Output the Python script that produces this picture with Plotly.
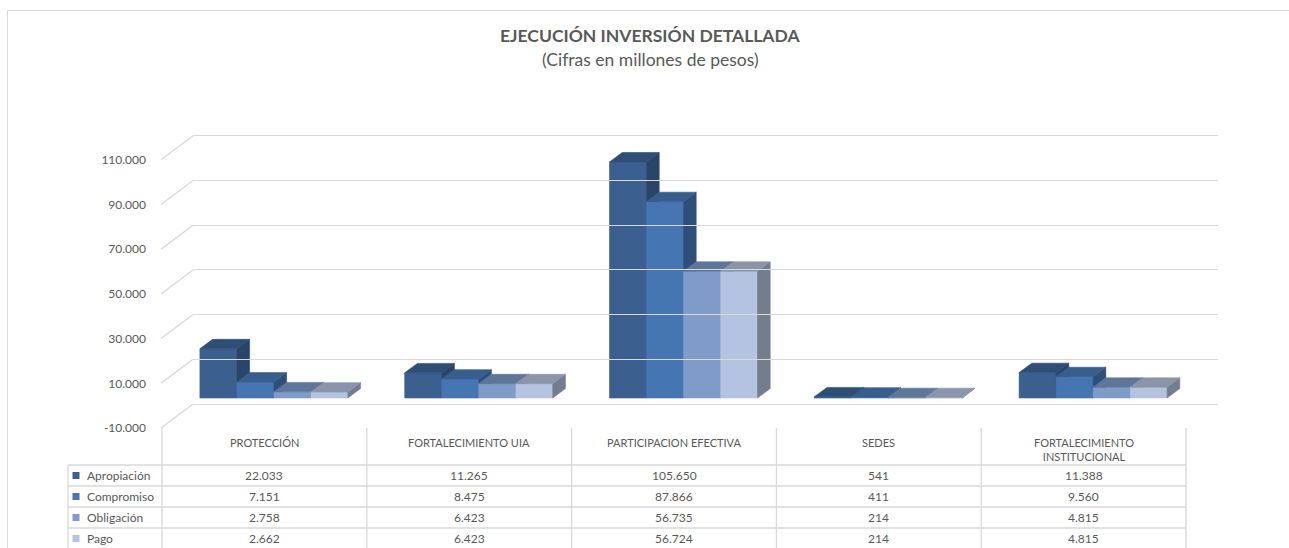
import plotly.graph_objects as go

# ---------------- data ----------------
categories = ["PROTECCIÓN", "FORTALECIMIENTO UIA", "PARTICIPACION EFECTIVA", "SEDES",
              "FORTALECIMIENTO INSTITUCIONAL"]
series_names = ["Apropiación", "Compromiso", "Obligación", "Pago"]
apropiacion = [22033, 11265, 105650, 541, 11388]
compromiso = [7151, 8475, 87866, 411, 9560]
obligacion = [2758, 6423, 56735, 214, 4815]
pago = [2662, 6423, 56724, 214, 4815]
y_tick_values = [-10000, 10000, 30000, 50000, 70000, 90000, 110000]
y_tick_labels = ["-10.000", "10.000", "30.000", "50.000", "70.000", "90.000", "110.000"]
title_text = "EJECUCIÓN INVERSIÓN DETALLADA"
subtitle_text = "(Cifras en millones de pesos)"

series_values = [apropiacion, compromiso, obligacion, pago]

# ---------------- styles ----------------
front_colors = ["#3B6090", "#4676B2", "#7F9CC9", "#B4C3DF"]
side_colors = ["#2A4567", "#2E4F7A", "#56698A", "#747D8E"]
top_colors = ["#2F4E75", "#385E8E", "#5F769B", "#8A95AB"]
GRID = "#D9D9D9"
TXT = "#595959"
FONT = "Lato, 'Open Sans', sans-serif"

W, H = 1289, 548
K = 2.235 / 1000.0            # pixels per value unit
GRID_BOTTOM_PX = 404          # back wall position of the lowest tick
FRONT_ZERO_PX = 398           # front plane position of value 0
PAD = 1000

def px_x(x):
    return x / W

def px_y(y):
    return 1 - y / H

def back_px(v):
    return GRID_BOTTOM_PX - (v - y_tick_values[0]) * K

lo = y_tick_values[0] - PAD
hi = y_tick_values[-1] + PAD
bottom_px = back_px(lo)
top_px = back_px(hi)
y_domain = [px_y(bottom_px), px_y(top_px)]
front_range = [(FRONT_ZERO_PX - bottom_px) / K, (FRONT_ZERO_PX - top_px) / K]

n = len(categories)
FRONT_L, FRONT_R = 162, 1186
BACK_L, BACK_R = 193, 1218
unit_px = (FRONT_R - FRONT_L) / n
BW = 37 / unit_px
SHIFT = 9.5 / unit_px
DX = 12.7 / unit_px
DY = 9.4 / K

fig = go.Figure()

# back wall subplot (carries the value axis and its gridlines)
fig.add_trace(go.Scatter(x=[None], y=[None], xaxis="x2", yaxis="y", mode="markers",
                         hoverinfo="skip", showlegend=False))

for s, vals in enumerate(series_values):
    fx, fy, sx, sy, tx, ty = [], [], [], [], [], []
    for i, v in enumerate(vals):
        x0 = i + SHIFT - 2 * BW + s * BW
        x1 = x0 + BW
        fx += [x0, x1, x1, x0, x0, None]
        fy += [0, 0, v, v, 0, None]
        sx += [x1, x1 + DX, x1 + DX, x1, x1, None]
        sy += [0, DY, v + DY, v, 0, None]
        tx += [x0, x1, x1 + DX, x0 + DX, x0, None]
        ty += [v, v, v + DY, v + DY, v, None]
    for xs, ys, col in ((fx, fy, front_colors[s]), (sx, sy, side_colors[s]), (tx, ty, top_colors[s])):
        fig.add_trace(go.Scatter(x=xs, y=ys, mode="lines", fill="toself", fillcolor=col,
                                 line=dict(color=col, width=0.6), xaxis="x", yaxis="y2",
                                 hoverinfo="skip", showlegend=False))

shapes = []
annotations = []

# slanted side-wall lines (left wall of the 3-D box)
for tv in y_tick_values:
    gy = back_px(tv)
    shapes.append(dict(type="line", xref="paper", yref="paper",
                       x0=px_x(BACK_L), x1=px_x(BACK_L - 32), y0=px_y(gy), y1=px_y(gy + 24),
                       line=dict(color=GRID, width=1.3), layer="below"))

# outer border (left and top)
shapes.append(dict(type="line", xref="paper", yref="paper", x0=px_x(7.5), x1=px_x(7.5),
                   y0=px_y(10.5), y1=0, line=dict(color=GRID, width=1)))
shapes.append(dict(type="line", xref="paper", yref="paper", x0=px_x(7.5), x1=1,
                   y0=px_y(10.5), y1=px_y(10.5), line=dict(color=GRID, width=1)))

# data table
TABLE_TOP = 428
ROW_TOP = 465
ROW_H = 21
LEG_L = 68
col_edges = [FRONT_L + unit_px * i for i in range(n + 1)]
for i, xe in enumerate(col_edges):
    shapes.append(dict(type="line", xref="paper", yref="paper", x0=px_x(xe), x1=px_x(xe),
                       y0=px_y(TABLE_TOP), y1=0, line=dict(color=GRID, width=1.3)))
shapes.append(dict(type="line", xref="paper", yref="paper", x0=px_x(LEG_L), x1=px_x(LEG_L),
                   y0=px_y(ROW_TOP), y1=0, line=dict(color=GRID, width=1.3)))
for r in range(len(series_names)):
    yy = ROW_TOP + r * ROW_H
    shapes.append(dict(type="line", xref="paper", yref="paper", x0=px_x(LEG_L), x1=px_x(FRONT_R),
                       y0=px_y(yy), y1=px_y(yy), line=dict(color=GRID, width=1.3)))

for i, c in enumerate(categories):
    cx = (col_edges[i] + col_edges[i + 1]) / 2
    label = c.replace(" ", "<br>", 1) if len(c) > 24 else c
    annotations.append(dict(x=px_x(cx), y=px_y(434), xref="paper", yref="paper", text=label,
                            showarrow=False, xanchor="center", yanchor="top",
                            font=dict(family=FONT, size=11, color=TXT)))
    for s, vals in enumerate(series_values):
        yy = ROW_TOP + s * ROW_H + ROW_H / 2
        annotations.append(dict(x=px_x(cx), y=px_y(yy), xref="paper", yref="paper",
                                text=f"{vals[i]:,}".replace(",", "."), showarrow=False,
                                xanchor="center", yanchor="middle",
                                font=dict(family=FONT, size=12, color=TXT)))

for s, name in enumerate(series_names):
    yy = ROW_TOP + s * ROW_H + ROW_H / 2
    shapes.append(dict(type="rect", xref="paper", yref="paper", x0=px_x(72.5), x1=px_x(79.5),
                       y0=px_y(yy + 3.5), y1=px_y(yy - 3.5), fillcolor=front_colors[s],
                       line=dict(width=0)))
    annotations.append(dict(x=px_x(85), y=px_y(yy), xref="paper", yref="paper", text=name,
                            showarrow=False, xanchor="left", yanchor="middle",
                            font=dict(family=FONT, size=12, color=TXT)))

# title
annotations.append(dict(x=px_x(650), y=px_y(35.5), xref="paper", yref="paper",
                        text=f"<b>{title_text}</b>", showarrow=False, xanchor="center",
                        yanchor="middle", font=dict(family=FONT, size=17.5, color=TXT)))
annotations.append(dict(x=px_x(650), y=px_y(60), xref="paper", yref="paper",
                        text=subtitle_text, showarrow=False, xanchor="center",
                        yanchor="middle", font=dict(family=FONT, size=17.5, color=TXT)))

fig.update_layout(
    width=W, height=H, autosize=False,
    margin=dict(l=0, r=0, t=0, b=0, pad=0, autoexpand=False),
    paper_bgcolor="white", plot_bgcolor="rgba(0,0,0,0)",
    showlegend=False,
    xaxis=dict(domain=[px_x(FRONT_L), px_x(FRONT_R)], range=[-0.5, n - 0.5], visible=False,
               fixedrange=True, automargin=False),
    xaxis2=dict(domain=[px_x(BACK_L), px_x(BACK_R)], range=[-0.5, n - 0.5], showgrid=False,
                zeroline=False, showticklabels=False, showline=False, anchor="y",
                fixedrange=True, automargin=False),
    yaxis=dict(domain=y_domain, range=[lo, hi], anchor="x2", tickvals=y_tick_values,
               ticktext=y_tick_labels, showgrid=True, gridcolor=GRID, gridwidth=1.3,
               zeroline=False, showline=False, ticks="", ticklabelshift=24,
               ticklabelstandoff=46, tickfont=dict(family=FONT, size=12, color=TXT),
               fixedrange=True, automargin=False),
    yaxis2=dict(domain=y_domain, range=front_range, overlaying="y", anchor="x",
                visible=False, fixedrange=True, automargin=False),
    shapes=shapes,
    annotations=annotations,
)

fig.write_html("out.html", config={"displayModeBar": False},
               post_script="document.body.style.margin='0';document.body.style.padding='0';")
